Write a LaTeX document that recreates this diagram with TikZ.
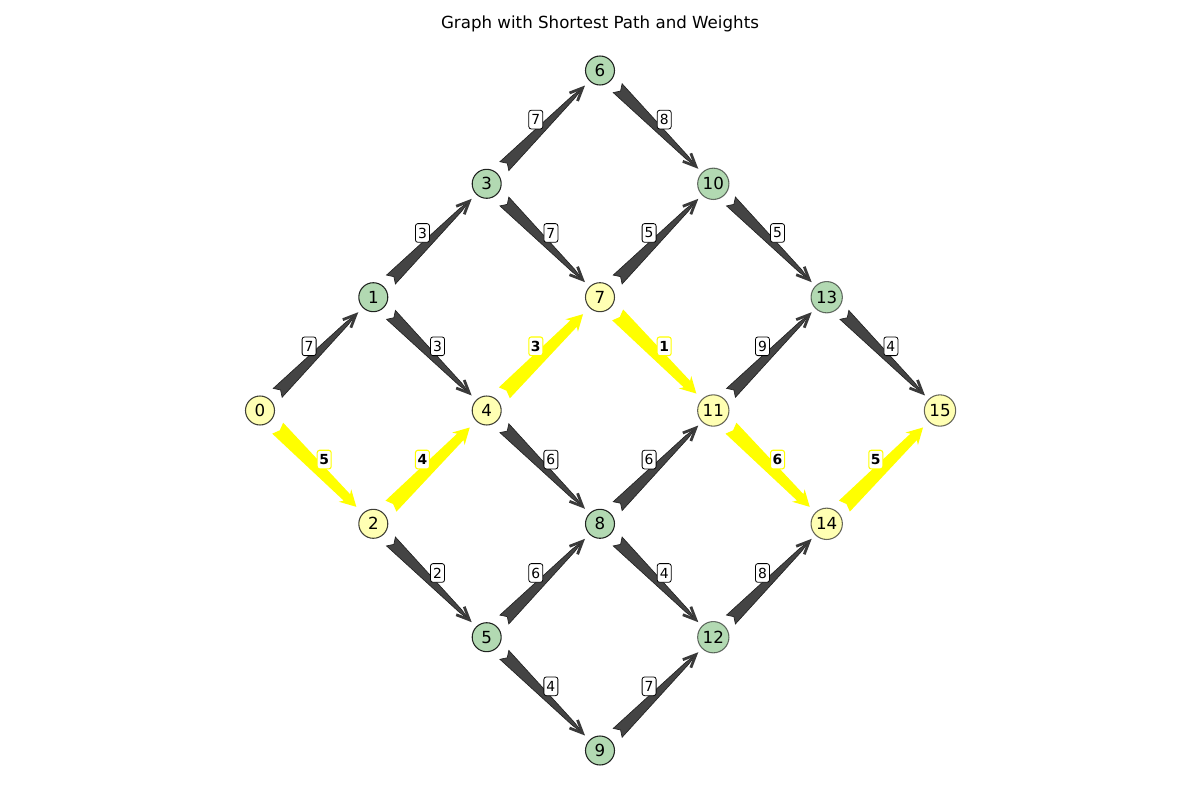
\documentclass[tikz,border=0pt]{standalone}
\usepackage{fontspec}
\setmainfont{DejaVu Sans}
\usetikzlibrary{calc}
\definecolor{gfill}{HTML}{B2D9B2}
\definecolor{yfill}{HTML}{FFFFB3}
\definecolor{wedgecol}{HTML}{444444}
\definecolor{wedgeline}{HTML}{222222}
\definecolor{hlyel}{HTML}{FFFF00}
\tikzset{
  vtx/.style={circle, inner sep=0pt, minimum size=21.75pt, line width=0.8pt,
    font=\fontsize{12.5}{14}\selectfont},
  vtxwide/.style={vtx, minimum size=23.5pt},
  vg/.style={vtx, fill=gfill, draw=black, draw opacity=0.85},
  vy/.style={vtx, fill=yfill, draw=black, draw opacity=0.75},
  vgw/.style={vtxwide, fill=gfill, draw=black, draw opacity=0.55},
  vyw/.style={vtxwide, fill=yfill, draw=black, draw opacity=0.6},
  wedgest/.style={fill=wedgecol, draw=wedgeline, line width=0.5pt, line join=miter},
  headst/.style={draw=wedgecol!85!black, line width=2.1pt, line join=miter, line cap=butt},
  yelst/.style={fill=hlyel},
  elab/.style={draw=black, fill=white, rounded corners=1.8pt, inner sep=0pt,
    minimum width=10.5pt, minimum height=14pt, line width=0.6pt,
    font=\fontsize{10.4}{12}\selectfont},
  elaby/.style={elab, draw=hlyel, line width=0.8pt, font=\fontsize{10.4}{12}\selectfont\bfseries},
  titlest/.style={font=\fontsize{12.5}{14}\selectfont, inner sep=0pt}
}
\newcommand\garr[3]{%
  \coordinate (s1) at ($(#1)!18.75pt!(#2)$);
  \coordinate (s2) at ($(#1)!21.8pt!(#2)$);
  \coordinate (tp) at ($(#2)!18.5pt!(#1)$);
  \coordinate (hb) at ($(#2)!28pt!(#1)$);
  \filldraw[wedgest] ($(s1)!4.7pt!90:(#2)$) -- (s2) -- ($(s1)!4.7pt!-90:(#2)$)
     -- ($(hb)!1.3pt!-90:(#2)$) -- (tp) -- ($(hb)!1.3pt!90:(#2)$) -- cycle;
  \draw[headst] ($(tp)!10.5pt!24:(#1)$) -- (tp) -- ($(tp)!10.5pt!-24:(#1)$);
  \coordinate (mm) at ($(#1)!0.5!(#2)$);
  \node[elab] at ($(mm)!8pt!90:(#2)$) {#3};
}
\newcommand\yarr[3]{%
  \coordinate (s1) at ($(#1)!18.75pt!(#2)$);
  \coordinate (s2) at ($(#1)!21pt!(#2)$);
  \coordinate (tp) at ($(#2)!18pt!(#1)$);
  \coordinate (se) at ($(#2)!28pt!(#1)$);
  \coordinate (hb) at ($(#2)!30pt!(#1)$);
  \fill[yelst] ($(s1)!5.8pt!90:(#2)$) -- (s2) -- ($(s1)!5.8pt!-90:(#2)$)
     -- ($(se)!3.4pt!-90:(#2)$) -- ($(hb)!6.6pt!-90:(#2)$) -- (tp)
     -- ($(hb)!6.6pt!90:(#2)$) -- ($(se)!3.4pt!90:(#2)$) -- cycle;
  \coordinate (mm) at ($(#1)!0.5!(#2)$);
  \node[elaby] at ($(mm)!8pt!90:(#2)$) {#3};
}
\begin{document}
\begin{tikzpicture}[x=0.75pt,y=-0.75pt]
\useasboundingbox (0,0) rectangle (1200,800);
\node[titlest] (title) at (600,23.5) {Graph with Shortest Path and Weights};
% nodes
\node[vy]  (n0)  at (260.0,410.5) {0};
\node[vg]  (n1)  at (373.3,297.2) {1};
\node[vy]  (n2)  at (373.3,523.8) {2};
\node[vg]  (n3)  at (486.7,183.8) {3};
\node[vy]  (n4)  at (486.7,410.5) {4};
\node[vg]  (n5)  at (486.7,637.2) {5};
\node[vg]  (n6)  at (600.0,70.5)  {6};
\node[vy]  (n7)  at (600.0,297.2) {7};
\node[vg]  (n8)  at (600.0,523.8) {8};
\node[vg]  (n9)  at (600.0,750.5) {9};
\node[vgw] (n10) at (713.3,183.8) {10};
\node[vyw] (n11) at (713.3,410.5) {11};
\node[vgw] (n12) at (713.3,637.2) {12};
\node[vgw] (n13) at (826.7,297.2) {13};
\node[vyw] (n14) at (826.7,523.8) {14};
\node[vyw] (n15) at (940.0,410.5) {15};
% gray edges
\garr{n0}{n1}{7}
\garr{n1}{n3}{3}
\garr{n1}{n4}{3}
\garr{n2}{n5}{2}
\garr{n3}{n6}{7}
\garr{n3}{n7}{7}
\garr{n4}{n8}{6}
\garr{n5}{n8}{6}
\garr{n5}{n9}{4}
\garr{n6}{n10}{8}
\garr{n7}{n10}{5}
\garr{n8}{n11}{6}
\garr{n8}{n12}{4}
\garr{n9}{n12}{7}
\garr{n10}{n13}{5}
\garr{n11}{n13}{9}
\garr{n12}{n14}{8}
\garr{n13}{n15}{4}
% shortest path
\yarr{n0}{n2}{5}
\yarr{n2}{n4}{4}
\yarr{n4}{n7}{3}
\yarr{n7}{n11}{1}
\yarr{n11}{n14}{6}
\yarr{n14}{n15}{5}
\end{tikzpicture}
\end{document}
